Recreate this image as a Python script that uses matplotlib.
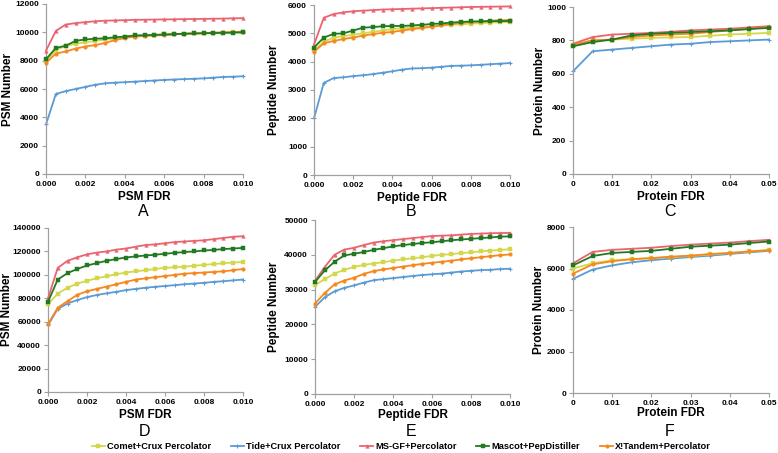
import matplotlib
matplotlib.use("Agg")
import matplotlib.pyplot as plt
from matplotlib.lines import Line2D

plt.rcParams['font.family'] = ['Liberation Sans', 'DejaVu Sans']

# ---------------- data ----------------
series_names = ["Comet+Crux Percolator", "Tide+Crux Percolator", "MS-GF+Percolator",
                "Mascot+PepDistiller", "X!Tandem+Percolator"]

x_fine = [0, 0.0005, 0.001, 0.0015, 0.002, 0.0025, 0.003, 0.0035, 0.004, 0.0045, 0.005,
          0.0055, 0.006, 0.0065, 0.007, 0.0075, 0.008, 0.0085, 0.009, 0.0095, 0.010]
x_prot = [0, 0.005, 0.01, 0.015, 0.02, 0.025, 0.03, 0.035, 0.04, 0.045, 0.05]

# Panel A (PSM, dataset 1)
a_comet = [8000, 8750, 9050, 9200, 9300, 9400, 9500, 9550, 9650, 9700, 9750, 9800, 9850, 9870, 9900, 9920, 9940, 9960, 9970, 9990, 10000]
a_tide = [3500, 5650, 5850, 6000, 6150, 6300, 6400, 6450, 6480, 6520, 6560, 6600, 6640, 6670, 6700, 6720, 6750, 6800, 6850, 6870, 6900]
a_msgf = [8700, 10100, 10550, 10650, 10720, 10780, 10820, 10840, 10860, 10880, 10890, 10900, 10910, 10920, 10930, 10940, 10950, 10960, 10970, 10990, 11000]
a_mascot = [8100, 8900, 9050, 9400, 9500, 9550, 9580, 9650, 9700, 9780, 9800, 9820, 9850, 9870, 9900, 9920, 9930, 9950, 9960, 9980, 10000]
a_xtandem = [7850, 8500, 8650, 8850, 9000, 9100, 9250, 9450, 9600, 9700, 9750, 9780, 9800, 9850, 9900, 9920, 9950, 9980, 10000, 10020, 10050]

# Panel B (Peptide, dataset 1)
b_comet = [4400, 4700, 4850, 4900, 4950, 5000, 5050, 5100, 5150, 5180, 5200, 5230, 5250, 5280, 5300, 5320, 5340, 5360, 5380, 5390, 5400]
b_tide = [2000, 3250, 3420, 3450, 3490, 3520, 3560, 3610, 3660, 3720, 3760, 3770, 3790, 3820, 3850, 3860, 3870, 3890, 3910, 3930, 3950]
b_msgf = [4600, 5550, 5680, 5740, 5780, 5800, 5820, 5840, 5850, 5860, 5870, 5880, 5890, 5900, 5910, 5920, 5930, 5935, 5940, 5945, 5950]
b_mascot = [4500, 4850, 4980, 5000, 5100, 5200, 5220, 5250, 5260, 5260, 5280, 5300, 5330, 5350, 5380, 5400, 5420, 5420, 5430, 5430, 5440]
b_xtandem = [4350, 4650, 4730, 4800, 4850, 4920, 4970, 5020, 5050, 5100, 5150, 5190, 5230, 5280, 5330, 5370, 5400, 5420, 5450, 5460, 5470]

# Panel C (Protein, dataset 1)
c_comet = [770, 800, 805, 810, 815, 818, 820, 828, 835, 840, 845]
c_tide = [615, 735, 745, 755, 765, 775, 780, 790, 795, 800, 805]
c_msgf = [780, 820, 835, 840, 845, 852, 860, 865, 870, 878, 885]
c_mascot = [765, 790, 805, 830, 840, 845, 850, 855, 860, 868, 875]
c_xtandem = [775, 800, 805, 820, 830, 835, 840, 850, 860, 870, 880]

# Panel D (PSM, dataset 2)
d_comet = [75000, 84000, 89000, 92500, 95000, 97000, 98800, 100500, 102000, 103000, 104000, 105000, 106000, 106500, 107000, 107800, 108500, 109200, 110000, 110500, 111000]
d_tide = [57000, 71000, 75500, 78500, 81000, 82800, 84200, 85500, 87000, 88000, 89000, 89800, 90500, 91200, 92000, 92600, 93200, 94000, 94600, 95300, 96000]
d_msgf = [80000, 106000, 112000, 115000, 117500, 119000, 120000, 121500, 122500, 124000, 125500, 126000, 127000, 128000, 128500, 129000, 129500, 130500, 131500, 132500, 133000]
d_mascot = [77000, 96000, 101500, 105000, 108000, 110000, 112000, 113500, 114800, 115800, 116500, 117200, 118000, 118800, 119500, 120000, 120800, 121300, 122000, 122500, 123000]
d_xtandem = [58000, 72000, 77500, 83000, 86000, 88000, 90000, 92000, 94000, 96000, 97000, 98000, 99000, 100000, 101000, 101500, 102000, 102500, 103000, 104000, 105000]

# Panel E (Peptide, dataset 2)
e_comet = [31300, 33000, 34600, 35700, 36500, 37100, 37500, 37900, 38300, 38700, 39000, 39300, 39700, 40000, 40200, 40500, 40700, 41000, 41200, 41400, 41600]
e_tide = [25000, 27800, 29500, 30500, 31200, 32000, 32700, 33000, 33300, 33600, 33900, 34200, 34400, 34600, 34900, 35200, 35400, 35600, 35700, 35900, 36000]
e_msgf = [32500, 36500, 40000, 41500, 42000, 42800, 43500, 43900, 44200, 44500, 44800, 45100, 45400, 45500, 45600, 45800, 46000, 46100, 46200, 46250, 46300]
e_mascot = [32200, 35500, 38000, 39800, 40300, 40800, 41400, 41900, 42400, 42800, 43100, 43400, 43600, 43900, 44200, 44400, 44600, 44800, 45000, 45200, 45300]
e_xtandem = [26000, 29000, 31500, 32600, 33400, 34500, 35300, 35800, 36200, 36600, 37000, 37400, 37700, 38000, 38300, 38700, 39000, 39300, 39600, 39900, 40100]

# Panel F (Protein, dataset 2)
f_comet = [6000, 6250, 6400, 6450, 6500, 6550, 6600, 6680, 6750, 6820, 6900]
f_tide = [5500, 5950, 6150, 6300, 6400, 6480, 6550, 6620, 6700, 6780, 6850]
f_msgf = [6250, 6800, 6900, 6950, 7000, 7080, 7150, 7200, 7250, 7320, 7380]
f_mascot = [6150, 6600, 6750, 6800, 6850, 6950, 7050, 7100, 7150, 7230, 7300]
f_xtandem = [5750, 6200, 6350, 6450, 6500, 6570, 6620, 6700, 6750, 6820, 6880]

fine_ticks = [0, 0.002, 0.004, 0.006, 0.008, 0.010]
fine_ticklabels = ["0.000", "0.002", "0.004", "0.006", "0.008", "0.010"]
prot_ticks = [0, 0.01, 0.02, 0.03, 0.04, 0.05]
prot_ticklabels = ["0", "0.01", "0.02", "0.03", "0.04", "0.05"]

# ---------------- style ----------------
colors = ["#d3d84a", "#5b9bd5", "#ea6470", "#217a21", "#f5891f"]
markers = ["s", "+", "^", "s", "o"]
msizes = [2.2, 3.0, 2.6, 2.6, 2.6]
zorders = [3, 2, 4, 5, 4]

fig = plt.figure(figsize=(7.78, 4.53), dpi=100)
W, H = 778.0, 453.0

def make_ax(l, r, t, b):
    return fig.add_axes([l / W, 1 - b / H, (r - l) / W, (b - t) / H])

panels = [
    dict(box=(46, 243, 4, 174), x=x_fine, ys=[a_comet, a_tide, a_msgf, a_mascot, a_xtandem],
         ylim=12000, ystep=2000, xt=fine_ticks, xtl=fine_ticklabels, xmax=0.010,
         xlabel="PSM FDR", ylabel="PSM Number", letter="A", xly=197, lety=212, ylx=8),
    dict(box=(314, 510, 5, 175), x=x_fine, ys=[b_comet, b_tide, b_msgf, b_mascot, b_xtandem],
         ylim=6000, ystep=1000, xt=fine_ticks, xtl=fine_ticklabels, xmax=0.010,
         xlabel="Peptide FDR", ylabel="Peptide Number", letter="B", xly=198, lety=212, ylx=274),
    dict(box=(573, 769, 7, 174), x=x_prot, ys=[c_comet, c_tide, c_msgf, c_mascot, c_xtandem],
         ylim=1000, ystep=200, xt=prot_ticks, xtl=prot_ticklabels, xmax=0.05,
         xlabel="Protein FDR", ylabel="Protein Number", letter="C", xly=197, lety=212, ylx=540),
    dict(box=(48, 243, 228, 392), x=x_fine, ys=[d_comet, d_tide, d_msgf, d_mascot, d_xtandem],
         ylim=140000, ystep=20000, xt=fine_ticks, xtl=fine_ticklabels, xmax=0.010,
         xlabel="PSM FDR", ylabel="PSM Number", letter="D", xly=415, lety=432, ylx=7),
    dict(box=(315, 510, 220, 394), x=x_fine, ys=[e_comet, e_tide, e_msgf, e_mascot, e_xtandem],
         ylim=50000, ystep=10000, xt=fine_ticks, xtl=fine_ticklabels, xmax=0.010,
         xlabel="Peptide FDR", ylabel="Peptide Number", letter="E", xly=415, lety=432, ylx=274),
    dict(box=(573, 769, 227, 393), x=x_prot, ys=[f_comet, f_tide, f_msgf, f_mascot, f_xtandem],
         ylim=8000, ystep=2000, xt=prot_ticks, xtl=prot_ticklabels, xmax=0.05,
         xlabel="Protein FDR", ylabel="Protein Number", letter="F", xly=413, lety=432, ylx=539),
]

for p in panels:
    l, r, t, b = p["box"]
    ax = make_ax(l, r, t, b)
    for i, y in enumerate(p["ys"]):
        ax.plot(p["x"], y, color=colors[i], marker=markers[i], markersize=msizes[i],
                markeredgewidth=0.8 if markers[i] == "+" else 0.3, lw=1.3,
                zorder=zorders[i], clip_on=False)
    ax.set_xlim(0, p["xmax"])
    ax.set_ylim(0, p["ylim"])
    ax.set_xticks(p["xt"])
    ax.set_xticklabels(p["xtl"])
    yt = list(range(0, p["ylim"] + 1, p["ystep"]))
    ax.set_yticks(yt)
    ax.set_yticklabels([str(v) for v in yt])
    for s in ["top", "right"]:
        ax.spines[s].set_visible(False)
    for s in ["left", "bottom"]:
        ax.spines[s].set_color("#a0a0a0")
        ax.spines[s].set_linewidth(0.9)
    ax.tick_params(axis="both", direction="out", length=3, width=0.8, color="#a0a0a0",
                   labelsize=6.0, pad=2)
    for lab in ax.get_xticklabels() + ax.get_yticklabels():
        lab.set_fontweight("bold")
    cx = (l + r) / 2.0
    cy = (t + b) / 2.0
    fig.text(p["ylx"] / W, 1 - cy / H, p["ylabel"], ha="center", va="center",
             rotation=90, fontsize=8.5, fontweight="bold")
    fig.text(cx / W, 1 - p["xly"] / H, p["xlabel"], ha="center", va="center",
             fontsize=8.5, fontweight="bold")
    fig.text((cx - 1) / W, 1 - p["lety"] / H, p["letter"], ha="center", va="center",
             fontsize=11.5)

handles = [Line2D([0], [0], color=colors[i], marker=markers[i], markersize=msizes[i],
                  markeredgewidth=0.8 if markers[i] == "+" else 0.3, lw=1.3)
           for i in range(5)]
leg = fig.legend(handles, series_names, loc="center", bbox_to_anchor=(401.5 / W, 1 - 446.5 / H),
                 ncol=5, frameon=False, fontsize=6.7, handlelength=1.4, handletextpad=0.25,
                 columnspacing=2.1, borderpad=0.0)
for txt in leg.get_texts():
    txt.set_fontweight("bold")

fig.savefig("out.png", dpi=100)
